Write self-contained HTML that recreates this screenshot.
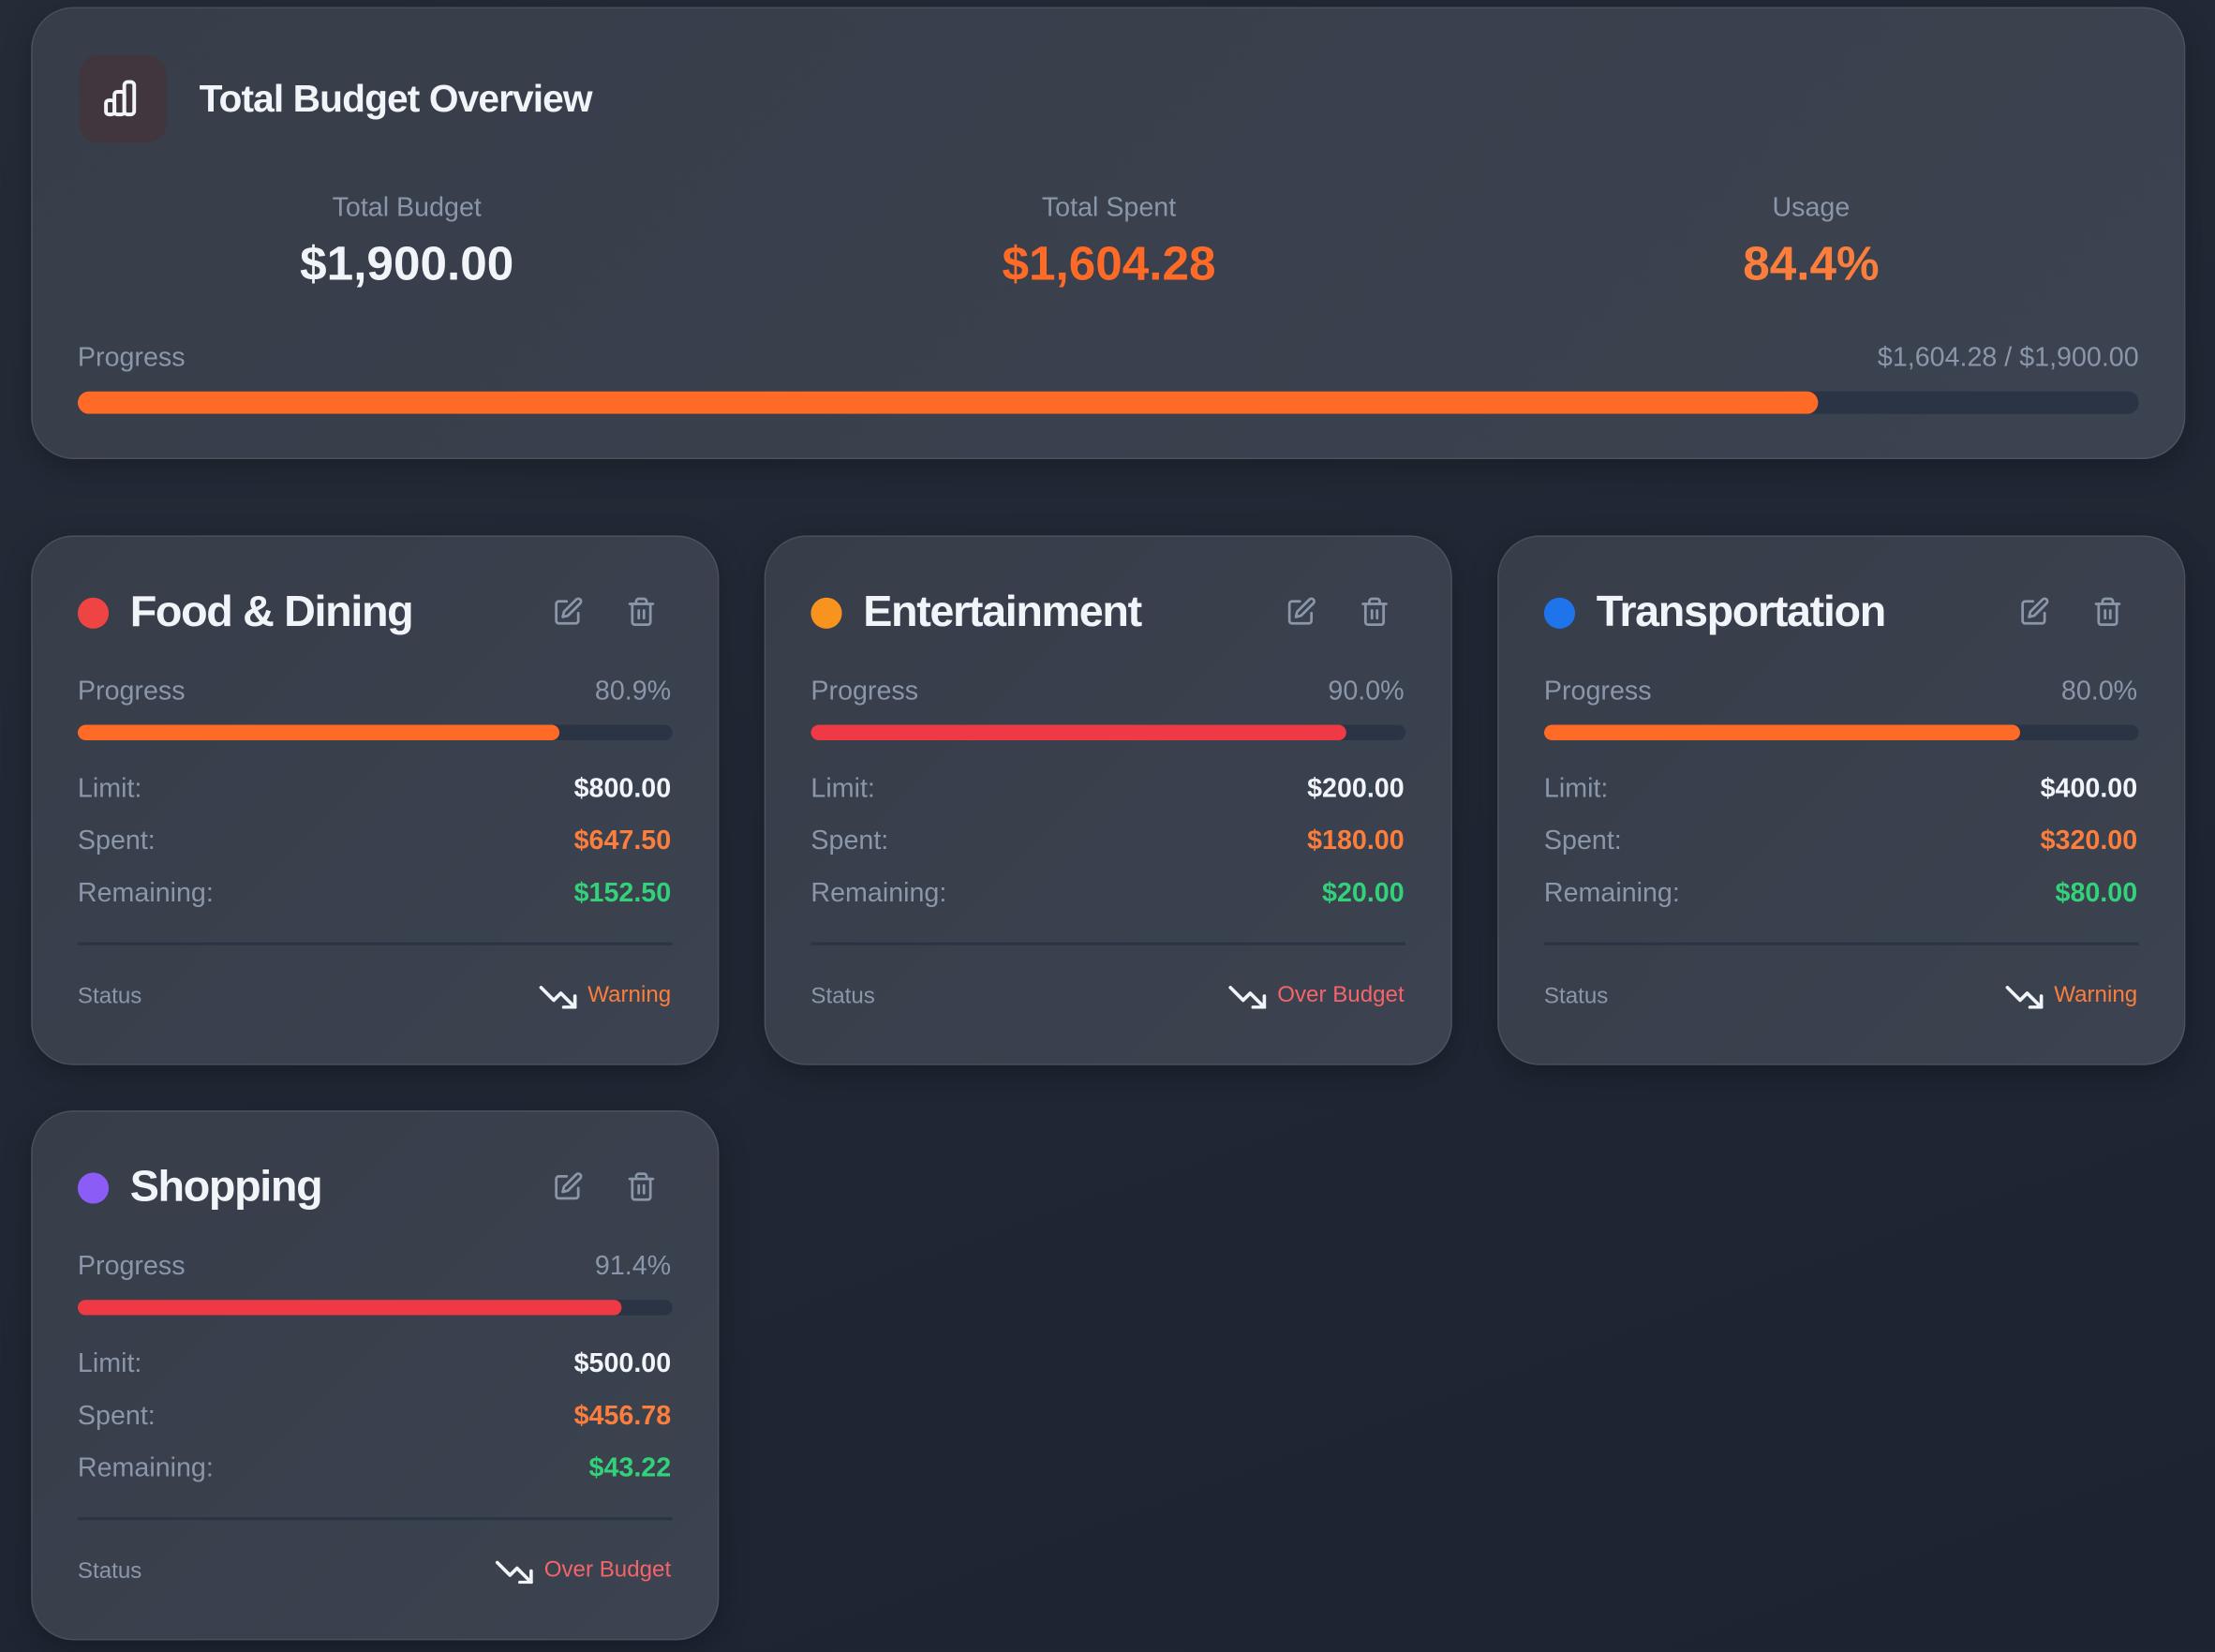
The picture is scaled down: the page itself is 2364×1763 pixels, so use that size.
<!DOCTYPE html>
<html><head><meta charset="utf-8">
<style>
html,body{margin:0;padding:0;width:2364px;height:1763px;overflow:hidden;background:#1f2633;}
#stage{position:absolute;left:0;top:0;width:1568px;height:1169px;transform:scale(1.5077);transform-origin:0 0;
background:linear-gradient(160deg,#252c38 0%,#1f2734 60%,#1c2331 100%);font-family:"Liberation Sans",sans-serif;}
.card{position:absolute;background:linear-gradient(135deg,#373d49,#3c4350);border:1.5px solid rgba(255,255,255,0.09);border-radius:30px;box-sizing:border-box;box-shadow:0 6px 20px rgba(0,0,0,0.25);}
.abs{position:absolute;}
.lbl{color:#8a96a9;font-size:19px;}
.bar{position:absolute;background:#2b3445;border-radius:8px;overflow:hidden;}
.fill{position:absolute;left:0;top:0;bottom:0;border-radius:8px;}
</style></head><body>
<div id="stage">
 <div class="card" style="left:22px;top:5px;width:1525px;height:320px;">
  <div class="abs" style="left:33px;top:33px;width:62px;height:62px;border-radius:14px;background:#41363d;">
   <svg width="62" height="62" viewBox="0 0 62 62"><g fill="none" stroke="#f1f4f8" stroke-width="2.6" stroke-linejoin="round"><rect x="19" y="32" width="6" height="10" rx="2"/><rect x="25" y="26" width="7" height="16" rx="2"/><rect x="32" y="19" width="7" height="23" rx="2.5"/></g></svg>
  </div>
  <div class="abs" style="left:118px;top:49px;font-size:27px;font-weight:bold;color:#f1f4f8;letter-spacing:-0.6px;">Total Budget Overview</div>
  <div class="abs lbl" style="left:115px;width:300px;text-align:center;top:131px;">Total Budget</div>
  <div class="abs" style="left:115px;width:300px;text-align:center;top:162px;font-size:34px;font-weight:bold;color:#f1f4f8;">$1,900.00</div>
  <div class="abs lbl" style="left:612px;width:300px;text-align:center;top:131px;">Total Spent</div>
  <div class="abs" style="left:612px;width:300px;text-align:center;top:162px;font-size:34px;font-weight:bold;color:#ff6a26;">$1,604.28</div>
  <div class="abs lbl" style="left:1109px;width:300px;text-align:center;top:131px;">Usage</div>
  <div class="abs" style="left:1109px;width:300px;text-align:center;top:162px;font-size:34px;font-weight:bold;color:#fb7e3c;">84.4%</div>
  <div class="abs lbl" style="left:32px;top:237px;">Progress</div>
  <div class="abs lbl" style="right:32px;top:237px;">$1,604.28 / $1,900.00</div>
  <div class="bar" style="left:32px;top:271px;width:1459px;height:16px;"><div id="ovfill" class="fill" style="background:#ff6a26;"></div></div>
 </div>
</div>
<script>
const names=["Food & Dining","Entertainment","Transportation","Shopping"];
const limits=[800,200,400,500];
const spent=[647.50,180.00,320.00,456.78];
const dotColors=["#ef4444","#f7931e","#1f74ec","#8b5cf6"];
const totalBudget=1900, totalSpent=1604.28;
document.getElementById('ovfill').style.width=(totalSpent/totalBudget*100)+'%';
const stage=document.getElementById('stage');
const fmt=v=>'$'+v.toFixed(2).replace(/\B(?=(\d{3})+(?!\d))/g,',');
const pos=[[22,379],[541,379],[1060,379],[22,786]];
names.forEach((n,i)=>{
 const pct=spent[i]/limits[i]*100;
 const over=pct>=90;
 const barC=over?"#ef3a45":"#ff6a26";
 const stC=over?"#f4646b":"#fb7e3c";
 const st=over?"Over Budget":"Warning";
 const c=document.createElement('div');
 c.className='card';
 c.style.cssText=`left:${pos[i][0]}px;top:${pos[i][1]}px;width:487px;height:375px;`;
 
 
 c.innerHTML=`
 <div class="abs" style="left:32px;top:43px;width:22px;height:22px;border-radius:50%;background:${dotColors[i]}"></div>
 <div class="abs" style="left:69px;top:35px;font-size:31px;font-weight:bold;color:#f1f4f8;letter-spacing:-0.9px;">${n.replace('&','&amp;')}</div>
 <svg class="abs" style="left:368px;top:42px" width="22" height="22" viewBox="0 0 24 24"><g fill="none" stroke="#8a96a9" stroke-width="2" stroke-linecap="round" stroke-linejoin="round"><path d="M11 4H5a2 2 0 0 0-2 2v13a2 2 0 0 0 2 2h13a2 2 0 0 0 2-2v-6"/><path d="M18.5 2.5a2.1 2.1 0 0 1 3 3L12 15l-4 1 1-4z"/></g></svg>
 <svg class="abs" style="left:420px;top:42px" width="22" height="22" viewBox="0 0 24 24"><g fill="none" stroke="#8a96a9" stroke-width="2" stroke-linecap="round" stroke-linejoin="round"><path d="M3 6h18"/><path d="M19 6v14a2 2 0 0 1-2 2H7a2 2 0 0 1-2-2V6"/><path d="M8 6V4a2 2 0 0 1 2-2h4a2 2 0 0 1 2 2v2"/><path d="M10 11v6M14 11v6"/></g></svg>
 <div class="abs lbl" style="left:32px;top:99px;">Progress</div>
 <div class="abs lbl" style="right:33px;top:99px;">${pct.toFixed(1)}%</div>
 <div class="bar" style="left:32px;top:133px;width:421px;height:11px;"><div class="fill" style="width:${pct}%;background:${barC}"></div></div>
 <div class="abs lbl" style="left:32px;top:168px;">Limit:</div>
 <div class="abs" style="right:33px;top:168px;font-size:19px;color:#f1f4f8;font-weight:bold;">${fmt(limits[i])}</div>
 <div class="abs lbl" style="left:32px;top:205px;">Spent:</div>
 <div class="abs" style="right:33px;top:205px;font-size:19px;color:#fb7e3c;font-weight:bold;">${fmt(spent[i])}</div>
 <div class="abs lbl" style="left:32px;top:242px;">Remaining:</div>
 <div class="abs" style="right:33px;top:242px;font-size:19px;color:#33d17a;font-weight:bold;">${fmt(limits[i]-spent[i])}</div>
 <div class="abs" style="left:32px;top:287px;width:421px;height:2px;background:#2b3445;"></div>
 <div class="abs" style="left:32px;top:317px;font-size:16px;color:#8a96a9;">Status</div>
 <div class="abs" style="right:33px;top:316px;font-size:16px;color:${stC};display:flex;align-items:center;gap:7px;"><svg width="28" height="18" viewBox="0 0 28 18"><g fill="none" stroke="#f1f4f8" stroke-width="2.4" stroke-linecap="round" stroke-linejoin="round"><path d="M2 3l9 9 5-5 10 10"/><path d="M26 9v8h-8"/></g></svg>${st}</div>`;
 stage.appendChild(c);
});
</script>
</body></html>
